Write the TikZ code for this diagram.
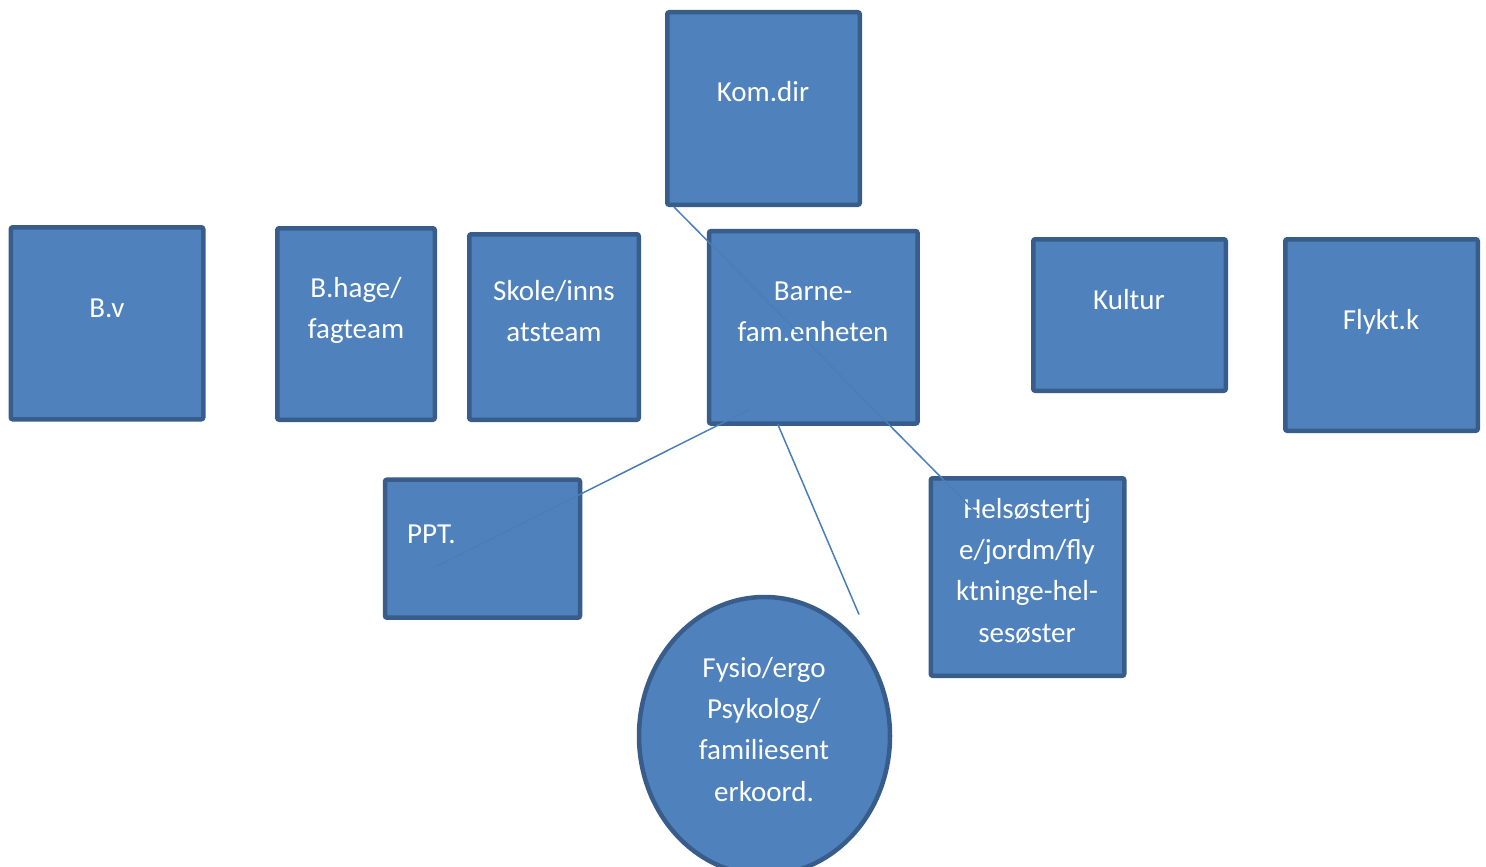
\documentclass[tikz,border=0pt]{standalone}
\usepackage{fontspec}
\setmainfont{Carlito}
\usetikzlibrary{calc,shapes.geometric}
\definecolor{boxfill}{HTML}{4F81BD}
\definecolor{boxline}{HTML}{385D8A}
\definecolor{conn}{HTML}{4A7EBB}
\newcommand\mlines[1]{\vtop{\baselineskip=41.3pt\lineskiplimit=-100pt\halign{\hfil##\hfil\cr#1\crcr}}}
\tikzset{
  box/.style={rectangle, draw=boxline, fill=boxfill, line width=4.5pt, rounded corners=2pt, inner sep=0pt},
  oval/.style={ellipse, draw=boxline, fill=boxfill, line width=4.5pt, inner sep=0pt},
  txt/.style={text=white, font=\fontsize{29}{41.3}\selectfont, inner sep=0pt, anchor=base},
  connector/.style={draw=conn, line width=1.5pt}
}
\begin{document}
\begin{tikzpicture}[x=1pt,y=-1pt]
\useasboundingbox (0,0) rectangle (1486,867);
% boxes
\node[box, minimum width=192.5pt, minimum height=192.5pt] (kom) at (763.5,108.5) {};
\node[box, minimum width=192.5pt, minimum height=192pt] (bv) at (107,323.3) {};
\node[box, minimum width=157.5pt, minimum height=191.5pt] (bhage) at (356,324) {};
\node[box, minimum width=169.5pt, minimum height=185.5pt] (skole) at (554,327) {};
\node[box, minimum width=208.5pt, minimum height=192.5pt] (barne) at (813.3,327.3) {};
\node[box, minimum width=192.5pt, minimum height=151.5pt] (kultur) at (1129.5,315) {};
\node[box, minimum width=192.5pt, minimum height=191.5pt] (flykt) at (1381.5,335) {};
\node[box, minimum width=195pt, minimum height=138pt] (ppt) at (482.5,548.7) {};
\node[box, minimum width=193.5pt, minimum height=197.5pt] (hel) at (1027.5,577) {};
\node[oval, minimum width=251pt, minimum height=278pt] (fys) at (764.5,736) {};
% texts
\node[txt] (kom-t) at (763,102) {Kom.dir};
\node[txt] (bv-t) at (107,317) {B.v};
\node[txt] (bhage-t) at (356,297) {\mlines{B.hage/\cr fagteam}};
\node[txt] (skole-t) at (554,300) {\mlines{Skole/inns\cr atsteam}};
\node[txt] (barne-t) at (813,300) {\mlines{Barne-\cr fam.enheten}};
\node[txt] (kultur-t) at (1129,309) {Kultur};
\node[txt] (flykt-t) at (1381,329) {Flykt.k};
\node[txt, anchor=base west] (ppt-t) at (407,543) {PPT.};
\node[txt] (hel-t) at (1027,518.3) {\mlines{Helsøstertj\cr e/jordm/fly\cr ktninge-hel-\cr sesøster}};
\node[txt] (fys-t) at (764,677.3) {\mlines{Fysio/ergo\cr Psykolog/\cr familiesent\cr erkoord.}};
% connectors
\draw[connector] ($(kom.south west)+(9,0)$) -- ($(hel.north west)+(49.5,38.75)$);
\draw[connector] ($(barne.south west)+(43,-16.5)$) -- ($(ppt.center)+(-47.5,18.3)$);
\draw[connector] ($(barne.south west)+(71,-1.5)$) -- ($(fys.north)+(94.5,19.75)$);
\end{tikzpicture}
\end{document}
